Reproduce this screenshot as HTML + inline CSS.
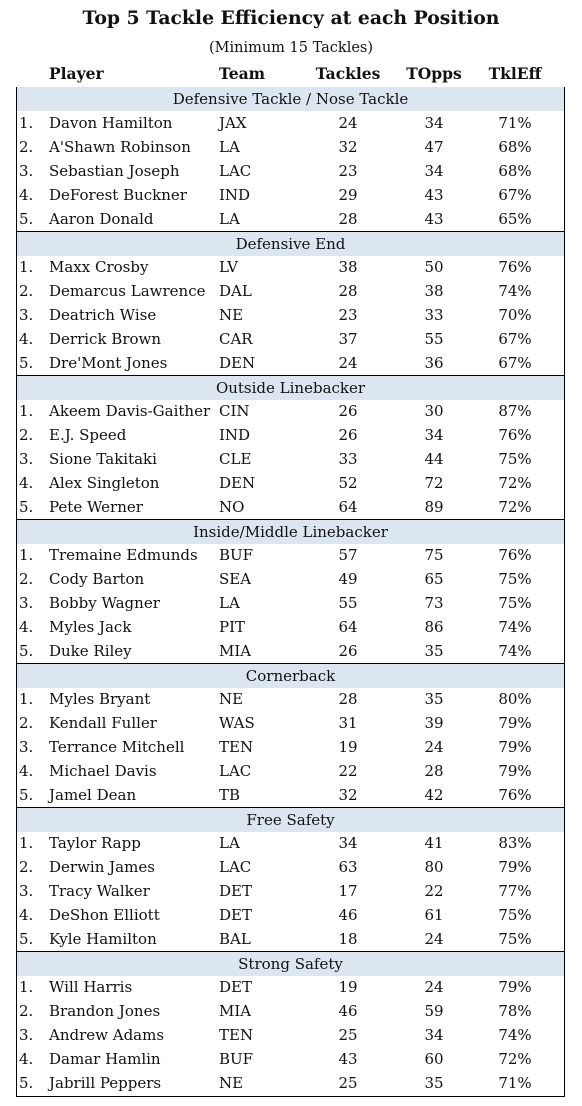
<!DOCTYPE html>
<html><head><meta charset="utf-8">
<style>
body{margin:0;width:582px;height:1106px;background:#fff;font-family:"DejaVu Serif","Liberation Serif",serif;color:#111;position:relative;overflow:hidden}
.a{position:absolute;white-space:nowrap;line-height:24px;height:24px}
#title{position:absolute;top:4px;left:0;width:582px;text-align:center;font-weight:bold;font-size:18.8px;line-height:28px}
#sub{position:absolute;top:37px;left:0;width:582px;text-align:center;font-size:14.5px;line-height:22px}
.h{font-weight:bold;font-size:15.5px;top:62px}
#tbl{position:absolute;left:16px;top:87px;width:549px;height:1010px;border:1.5px solid #000;box-sizing:border-box}
.sec{position:absolute;left:0;width:100%;height:24px;background:#dce6f1;text-align:center;font-size:15px;line-height:24px}
.r{font-size:15px}
.c{text-align:center;width:80px}
</style></head><body>
<div id="title">Top 5 Tackle Efficiency at each Position</div>
<div id="sub">(Minimum 15 Tackles)</div>
<div class="a h" style="left:49px">Player</div>
<div class="a h" style="left:219px">Team</div>
<div class="a h c" style="left:288px;width:120px">Tackles</div>
<div class="a h c" style="left:394px">TOpps</div>
<div class="a h c" style="left:475px">TklEff</div>
<div id="tbl"></div>
<script>
const sections=["Defensive Tackle / Nose Tackle","Defensive End","Outside Linebacker","Inside/Middle Linebacker","Cornerback","Free Safety","Strong Safety"];
const players=[
["Davon Hamilton","A'Shawn Robinson","Sebastian Joseph","DeForest Buckner","Aaron Donald"],
["Maxx Crosby","Demarcus Lawrence","Deatrich Wise","Derrick Brown","Dre'Mont Jones"],
["Akeem Davis-Gaither","E.J. Speed","Sione Takitaki","Alex Singleton","Pete Werner"],
["Tremaine Edmunds","Cody Barton","Bobby Wagner","Myles Jack","Duke Riley"],
["Myles Bryant","Kendall Fuller","Terrance Mitchell","Michael Davis","Jamel Dean"],
["Taylor Rapp","Derwin James","Tracy Walker","DeShon Elliott","Kyle Hamilton"],
["Will Harris","Brandon Jones","Andrew Adams","Damar Hamlin","Jabrill Peppers"]];
const teams=[["JAX","LA","LAC","IND","LA"],["LV","DAL","NE","CAR","DEN"],["CIN","IND","CLE","DEN","NO"],["BUF","SEA","LA","PIT","MIA"],["NE","WAS","TEN","LAC","TB"],["LA","LAC","DET","DET","BAL"],["DET","MIA","TEN","BUF","NE"]];
const tackles=[[24,32,23,29,28],[38,28,23,37,24],[26,26,33,52,64],[57,49,55,64,26],[28,31,19,22,32],[34,63,17,46,18],[19,46,25,43,25]];
const topps=[[34,47,34,43,43],[50,38,33,55,36],[30,34,44,72,89],[75,65,73,86,35],[35,39,24,28,42],[41,80,22,61,24],[24,59,34,60,35]];
const eff=[[71,68,68,67,65],[76,74,70,67,67],[87,76,75,72,72],[76,75,75,74,74],[80,79,79,79,76],[83,79,77,75,75],[79,78,74,72,71]];
const tbl=document.getElementById('tbl');
function cell(txt,left,top,cls){const d=document.createElement('div');d.className='a r '+(cls||'');d.style.left=left+'px';d.style.top=top+'px';d.textContent=txt;document.body.appendChild(d);return d;}
sections.forEach((s,i)=>{
  const top=i*144-1.5;
  const h=document.createElement('div');h.className='sec';h.style.top=top+'px';h.textContent=s;
  if(i>0)h.style.borderTop='1.5px solid #000';
  
  
  tbl.appendChild(h);
  for(let j=0;j<5;j++){
    const y=87+i*144+24*(j+1);
    const n=cell((j+1)+'.',19,y);
    
    
    const p=cell(players[i][j],49,y);
    
    
    const t=cell(teams[i][j],219,y);
    
    
    const k=cell(tackles[i][j],308,y,'c');
    
    
    const o=cell(topps[i][j],394,y,'c');
    
    
    const e=cell(eff[i][j]+'%',475,y,'c');
    
    
  }
});
</script>
</body></html>
